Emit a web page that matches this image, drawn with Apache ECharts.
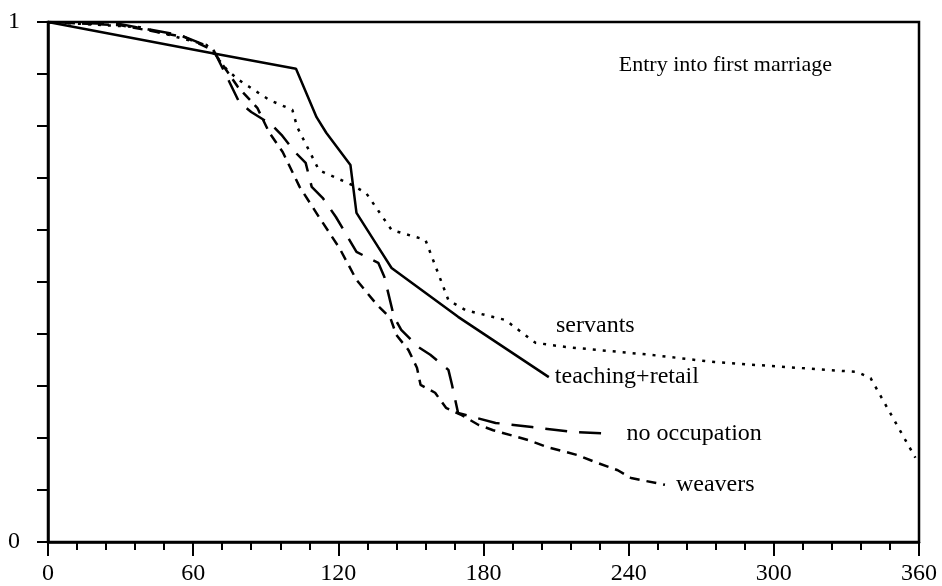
<!DOCTYPE html>
<html>
<head>
<meta charset="utf-8">
<script src="https://cdn.jsdelivr.net/npm/echarts@6/dist/echarts.min.js"></script>
<style>
  html, body { margin: 0; padding: 0; background: #fff; }
  #chart { width: 942px; height: 586px; }
</style>
</head>
<body>
<div id="chart"></div>
<script>
  // values (x in months, y = proportion unmarried)
  const servantsX = [0, 38, 65.5, 74, 79, 91.5, 101, 103, 112, 125.5, 131.5, 142, 156, 165.5, 172.5, 189, 201.5, 214, 249, 275.5, 334.5, 340, 358.5]
  const servantsY = [1, 0.99, 0.956, 0.908, 0.888, 0.85, 0.831, 0.798, 0.715, 0.687, 0.671, 0.6, 0.581, 0.465, 0.446, 0.427, 0.383, 0.375, 0.36, 0.346, 0.327, 0.315, 0.162]

  const teachingX = [0, 68, 102.5, 111, 115, 125, 127.5, 136.5, 142, 169.5, 207]
  const teachingY = [1, 0.94, 0.91, 0.817, 0.787, 0.725, 0.633, 0.567, 0.527, 0.433, 0.317]

  const noOccX = [0, 29.5, 54.5, 68, 74, 79, 84, 92.5, 96.5, 102.5, 106.5, 109, 113.5, 119, 127.5, 132.5, 136.5, 139, 143, 146, 153, 158, 165.5, 167, 169.5, 185, 200, 216, 232.5]
  const noOccY = [1, 0.996, 0.975, 0.95, 0.894, 0.846, 0.827, 0.802, 0.783, 0.748, 0.729, 0.683, 0.662, 0.625, 0.558, 0.546, 0.537, 0.51, 0.433, 0.408, 0.375, 0.36, 0.331, 0.302, 0.248, 0.229, 0.221, 0.212, 0.208]

  const weaversX = [0, 29.5, 56.5, 68, 78.5, 86.5, 91.5, 97, 104, 112, 120.5, 127.5, 136, 141.5, 144, 149, 152.5, 154, 160, 164.5, 171, 178, 184, 198.5, 206, 219, 226, 235.5, 241, 255]
  const weaversY = [1, 0.994, 0.971, 0.946, 0.875, 0.835, 0.787, 0.75, 0.683, 0.625, 0.565, 0.504, 0.456, 0.431, 0.398, 0.369, 0.335, 0.302, 0.287, 0.258, 0.244, 0.225, 0.215, 0.196, 0.183, 0.167, 0.154, 0.138, 0.123, 0.11]

  const xTickLabels = ['0', '60', '120', '180', '240', '300', '360']
  const yTickLabels = ['0', '1']

  const serif = '"Liberation Serif", "DejaVu Serif", serif'

  function pairs (xs, ys) {
    return xs.map((x, i) => [x, ys[i]])
  }

  function lineSeries (name, xs, ys, dash, labelDist) {
    return {
      type: 'line',
      name: name,
      data: pairs(xs, ys),
      showSymbol: false,
      symbol: 'none',
      animation: false,
      lineStyle: { color: '#000', width: 2.5, type: dash, cap: 'butt' },
      endLabel: labelDist == null ? { show: false } : {
        show: true,
        formatter: name,
        distance: labelDist,
        color: '#000',
        fontSize: 24,
        fontFamily: serif
      }
    }
  }

  const myChart = echarts.init(document.getElementById('chart'))
  myChart.setOption({
    backgroundColor: '#fff',
    animation: false,
    grid: {
      left: 48,
      right: 23,
      top: 22,
      bottom: 44,
      show: true,
      borderColor: '#000',
      borderWidth: 2.5
    },
    xAxis: {
      type: 'value',
      min: 0,
      max: 360,
      interval: 60,
      splitLine: { show: false },
      axisLine: { lineStyle: { color: '#000', width: 2.5 } },
      axisTick: { length: 14, lineStyle: { color: '#000', width: 2 } },
      minorTick: { show: true, splitNumber: 5, length: 8, lineStyle: { color: '#000', width: 2 } },
      axisLabel: {
        color: '#000',
        fontSize: 24,
        fontFamily: serif,
        margin: 20,
        formatter: v => xTickLabels.indexOf(String(v)) >= 0 ? String(v) : ''
      }
    },
    yAxis: {
      type: 'value',
      min: 0,
      max: 1,
      interval: 0.1,
      splitLine: { show: false },
      axisLine: { lineStyle: { color: '#000', width: 2.5 } },
      axisTick: { length: 11, lineStyle: { color: '#000', width: 2 } },
      axisLabel: {
        color: '#000',
        fontSize: 24,
        fontFamily: serif,
        margin: 28,
        formatter: v => {
          const s = String(Math.round(v * 10) / 10)
          return yTickLabels.indexOf(s) >= 0 ? s : ''
        }
      }
    },
    graphic: [
      {
        type: 'text',
        right: 110,
        top: 54,
        style: { text: 'Entry into first marriage', fill: '#000', fontSize: 22, fontFamily: serif }
      },
      {
        type: 'text',
        left: 556,
        top: 314,
        style: { text: 'servants', fill: '#000', fontSize: 24, fontFamily: serif }
      }
    ],
    series: [
      lineSeries('servants', servantsX, servantsY, [3, 7], null),
      lineSeries('teaching+retail', teachingX, teachingY, 'solid', 6),
      lineSeries('no occupation', noOccX, noOccY, [22, 12], 16),
      lineSeries('weavers', weaversX, weaversY, [10, 7], 11)
    ]
  })
</script>
</body>
</html>
